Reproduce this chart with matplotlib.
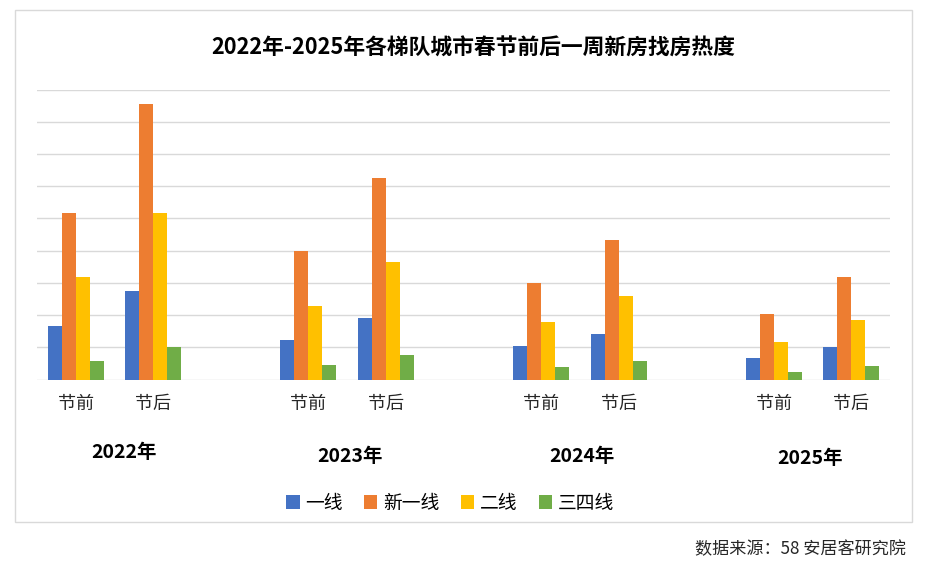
import numpy as np
import matplotlib.pyplot as plt
from matplotlib.patches import Rectangle

plt.rcParams['font.family'] = ['Noto Sans CJK SC', 'DejaVu Sans']

# 数据（按图估读，单位为网格格数）
years = ['2022年', '2023年', '2024年', '2025年']
periods = ['节前', '节后']
series = ['一线', '新一线', '二线', '三四线']
colors = ['#4472C4', '#ED7D31', '#FFC000', '#70AD47']

# 每个序列依次为 2022节前, 2022节后, 2023节前, ... 2025节后
tier1 = [1.67, 2.74, 1.24, 1.91, 1.03, 1.42, 0.68, 1.00]
new_tier1 = [5.18, 8.56, 4.00, 6.26, 3.00, 4.33, 2.03, 3.18]
tier2 = [3.17, 5.18, 2.28, 3.66, 1.78, 2.60, 1.15, 1.86]
tier34 = [0.58, 1.02, 0.45, 0.77, 0.38, 0.57, 0.23, 0.42]
values = [tier1, new_tier1, tier2, tier34]

fig = plt.figure(figsize=(9.37, 5.66), dpi=100)

# 外框
fig.patches.append(Rectangle((15 / 937, 1 - 522 / 566), 897 / 937, 512 / 566,
                             transform=fig.transFigure, fill=False,
                             edgecolor='#D9D9D9', linewidth=1))

ax = fig.add_axes([37 / 937, 1 - 379.5 / 566, 853 / 937, 290 / 566])

# 11 个类别位置：每年 节前/节后 + 空位
pos = []
for k in range(len(years)):
    pos += [3 * k, 3 * k + 1]
pos = np.array(pos)

width = 0.18
for j, (name, vals, c) in enumerate(zip(series, values, colors)):
    ax.bar(pos + (j - 1.5) * width, vals, width, color=c, label=name, zorder=3)

ax.set_xlim(-0.5, 10.5)
ax.set_ylim(0, 9)
ax.set_yticks(np.arange(0, 10))
ax.yaxis.grid(True, color='#D9D9D9', linewidth=1)
ax.set_yticklabels([])
ax.tick_params(axis='y', length=0)
ax.tick_params(axis='x', length=0, labelsize=13, pad=11)
ax.set_xticks(pos)
ax.set_xticklabels(periods * len(years), color='#262626')
for s in ax.spines.values():
    s.set_visible(False)

year_shift = [0.12, 0.04, 0.03, -0.03]
year_y = [-2.25, -2.4, -2.4, -2.45]
for k, y in enumerate(years):
    ax.text(3 * k + 0.5 + year_shift[k], year_y[k], y, ha='center', va='center',
            fontsize=14, fontweight='bold', color='#000000')

fig.text(473 / 937, 1 - 48 / 566, '2022年-2025年各梯队城市春节前后一周新房找房热度',
         ha='center', va='center', fontsize=15.7, fontweight='bold', color='#000000')

ax.legend(loc='center', bbox_to_anchor=(450 / 937, 1 - 503 / 566),
          bbox_transform=fig.transFigure, ncol=4, frameon=False, fontsize=13.5,
          handlelength=0.7, handleheight=0.7, columnspacing=1.15, handletextpad=0.3)

fig.text(906 / 937, 1 - 549 / 566, '数据来源：58 安居客研究院', ha='right', va='center',
         fontsize=12.3, color='#262626')

fig.savefig('out.png', dpi=100)
